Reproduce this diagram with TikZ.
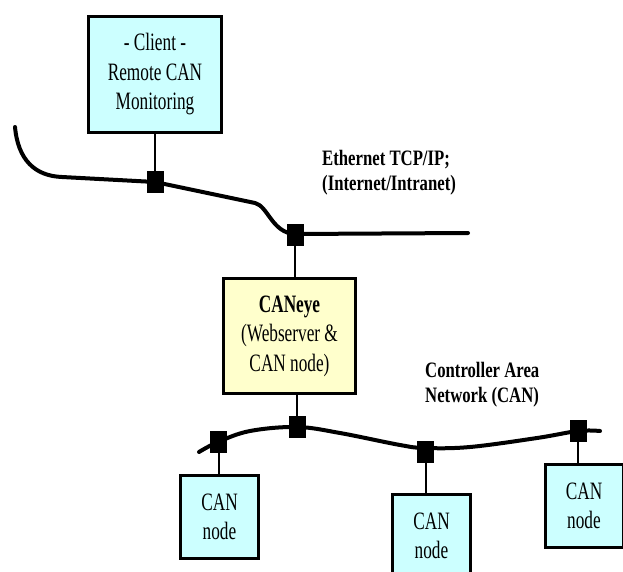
\documentclass[tikz,border=0pt]{standalone}
\usepackage{fontspec}
\newfontfamily\boxfont[FakeStretch=0.69]{Liberation Serif}
\newfontfamily\labfont[FakeStretch=0.76]{Liberation Serif}
\definecolor{cyanfill}{HTML}{CCFFFF}
\definecolor{yellowfill}{HTML}{FFFFCC}
\tikzset{
  box/.style={draw=black, line width=3pt, rectangle, inner sep=0pt, align=center,
    font=\boxfont\fontsize{25}{29.5}\selectfont},
  cyanbox/.style={box, fill=cyanfill},
  yellowbox/.style={box, fill=yellowfill},
  tap/.style={fill=black, draw=none, rectangle, minimum width=17pt, minimum height=22pt, inner sep=0pt},
  bus/.style={line width=4pt, line cap=round, line join=round},
  drop/.style={line width=2pt},
  lab/.style={anchor=north west, align=left, inner sep=0pt,
    font=\labfont\bfseries\fontsize{22}{25}\selectfont}
}
\begin{document}
\begin{tikzpicture}[x=1pt, y=-1pt]
\useasboundingbox (0,0) rectangle (623,572);
% buses
\draw[bus] (15,127) .. controls (18,160) and (35,176) .. (62,177) -- (155,182) -- (255,203)
  .. controls (268,206) and (272,233) .. (295,234) -- (468,233);
\draw[bus] plot[smooth, tension=0.6] coordinates {(199,452) (218,442) (250,431) (297,427) (340,433) (400,445) (425,448) (470,447) (537,438) (578,431) (600,431)};
% boxes
\node[cyanbox, minimum width=133pt, minimum height=116pt] (client) at (155,74.5) {- Client -\\Remote CAN\\Monitoring};
\node[yellowbox, minimum width=132pt, minimum height=115pt] (caneye) at (289.5,336) {\textbf{CANeye}\\(Webserver \&\\CAN node)};
\node[cyanbox, minimum width=78pt, minimum height=83pt] (n1) at (219.5,517) {CAN\\node};
\node[cyanbox, minimum width=78pt, minimum height=83pt] (n2) at (431.5,536) {CAN\\node};
\node[cyanbox, minimum width=78pt, minimum height=83pt] (n3) at (584,506) {CAN\\node};
% taps
\node[tap] (s1) at (155,182) {};
\node[tap] (s2) at (295,235) {};
\node[tap] (s3) at (297,427) {};
\node[tap] (s4) at (218.5,442) {};
\node[tap] (s5) at (425.5,452) {};
\node[tap] (s6) at (578,431) {};
% drops
\draw[drop] (client.south -| s1) -- (s1);
\draw[drop] (s2) -- (caneye.north -| s2);
\draw[drop] (caneye.south -| s3) -- (s3);
\draw[drop] (s4) -- (n1.north -| s4);
\draw[drop] (s5) -- (n2.north -| s5);
\draw[drop] (s6) -- (n3.north -| s6);
% labels
\node[lab] (ethlab) at (322,150) {Ethernet TCP/IP;\\(Internet/Intranet)};
\node[lab] (canlab) at (425,362) {Controller Area\\Network (CAN)};
\end{tikzpicture}
\end{document}
